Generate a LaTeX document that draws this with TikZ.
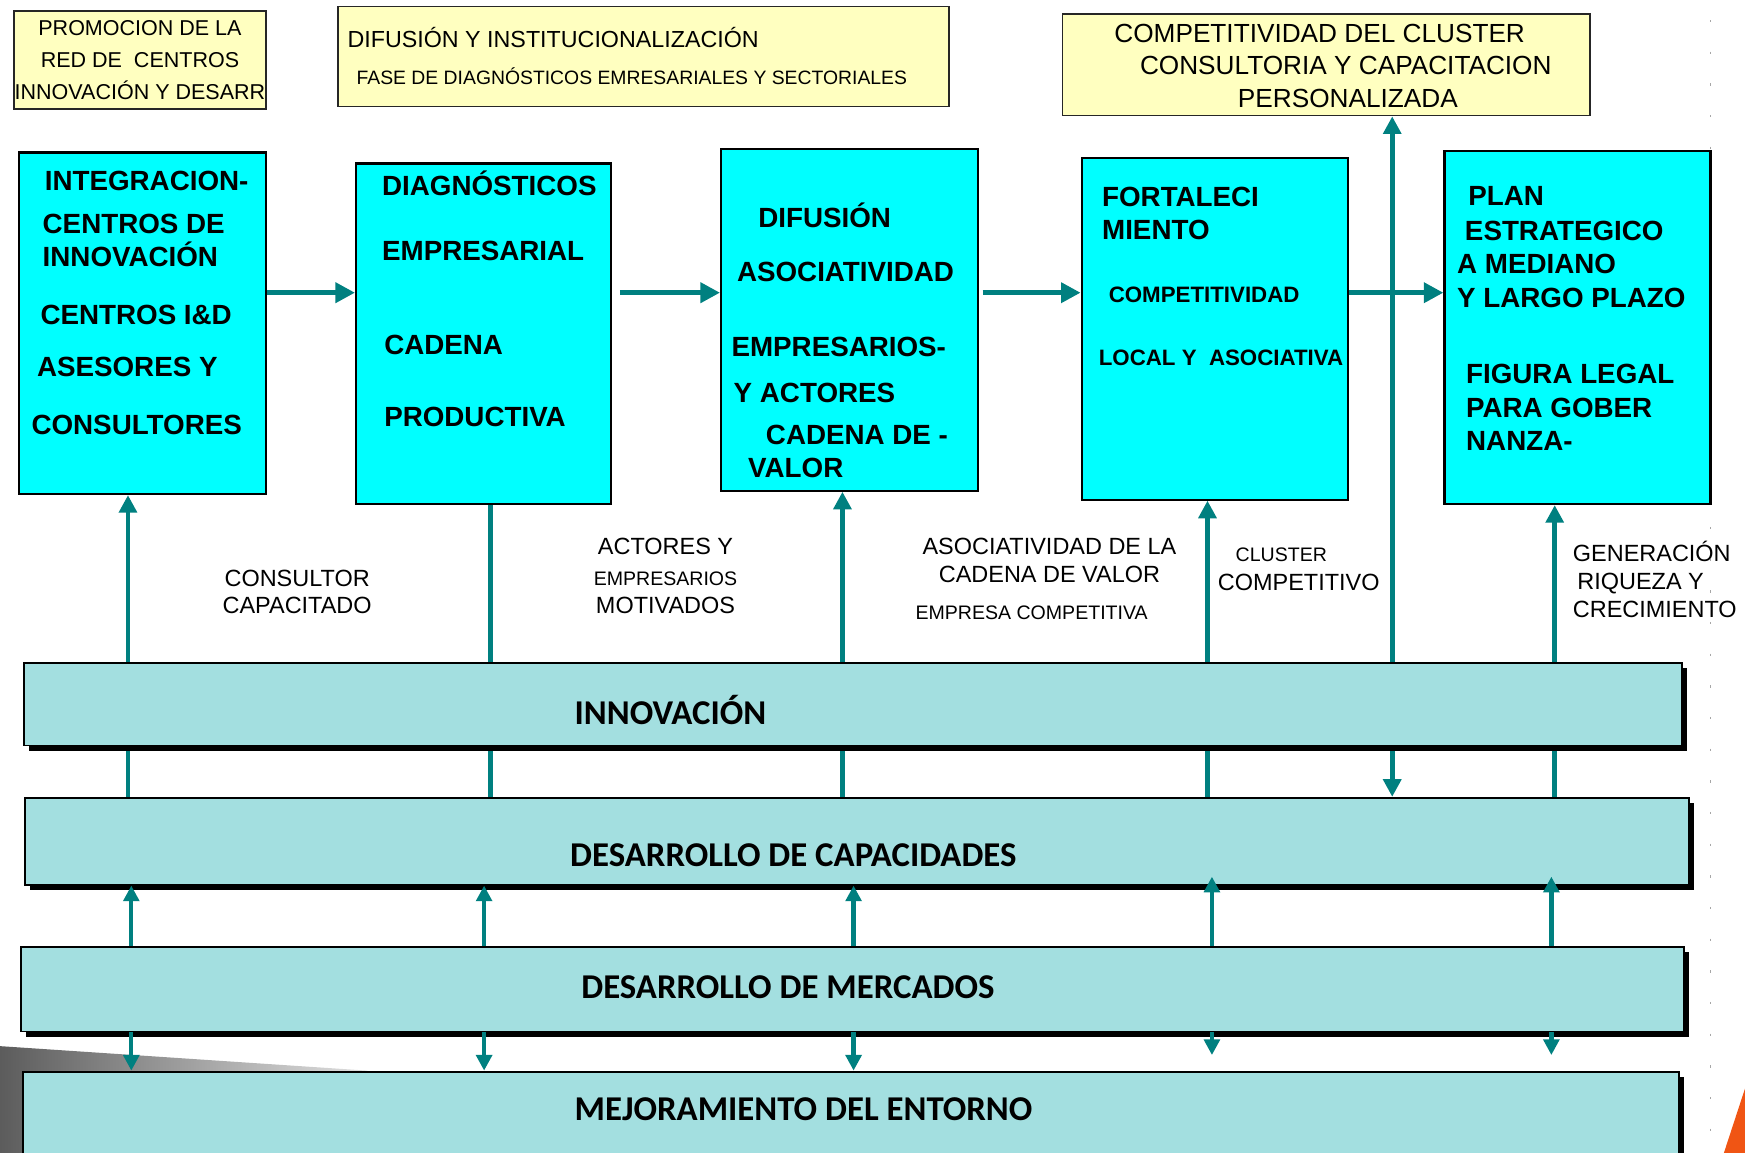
\documentclass[tikz,border=0pt]{standalone}
\usepackage{fontspec}
\setmainfont{Liberation Sans}
\newfontfamily\barfont{Carlito}
\usepackage{tikz}
\usetikzlibrary{
  positioning,
  shadows,
  backgrounds,
  arrows.meta
}
\definecolor{celeste}{RGB}{0,255,255}
\definecolor{crema}{RGB}{255,255,192}
\definecolor{verdeagua}{RGB}{163,223,224}
\definecolor{flecha}{RGB}{0,128,128}
\definecolor{naranja}{RGB}{240,85,20}

\begin{document}
\begin{tikzpicture}[x=0.02cm,y=-0.02cm,>={Triangle[length=9pt,width=9pt]},
    ybox/.style={draw=black!85,line width=0.9pt,fill=crema,anchor=north west,inner sep=0},
    cbox/.style={draw,line width=1.1pt,fill=celeste,anchor=north west,inner sep=0},
    barra/.style={draw,line width=1pt,fill=verdeagua,anchor=north west,inner sep=0,
      general shadow={fill=black,shadow xshift=0.09cm,shadow yshift=-0.09cm}},
    btext/.style={font=\bfseries\fontsize{14.2}{17}\selectfont,anchor=north west,inner sep=0,align=left},
    ltext/.style={font=\fontsize{12}{14.2}\selectfont,inner sep=0},
    bartext/.style={font=\barfont\bfseries\fontsize{17.8}{20}\selectfont,anchor=base west,inner sep=0},
    harrow/.style={flecha,line width=2.8pt,->,>={Triangle[length=10pt,width=10pt]}},
    varrow/.style={flecha,line width=2.4pt,->},
    larrow/.style={flecha,line width=2.2pt,->,>={Triangle[length=8pt,width=8pt]}}]

    \useasboundingbox (0,0) rectangle (1568,1036);

    \shade[left color=black!64,right color=black!12] (0,940) -- (330,962) -- (330,1036) -- (0,1036) -- cycle;
    \fill[naranja] (1568,978) -- (1568,1036) -- (1549,1036) -- cycle;
    \draw[black!35,line width=0.7pt,dash pattern=on 1.2pt off 15pt] (1537,18) -- (1537,1036);

    \node[ybox,minimum width=4.52cm,minimum height=1.76cm,align=center,font=\fontsize{11}{16.5}\selectfont] (prom) at (12,9)
        {PROMOCION DE LA\\RED DE~ CENTROS\\INNOVACIÓN Y DESARR};
    \node[ybox,minimum width=10.98cm,minimum height=1.8cm] (difu) at (303,5) {};
    \node[anchor=north west,inner sep=0,align=left,font=\fontsize{11.9}{18.8}\selectfont] (difut) at (312,24)
        {DIFUSIÓN Y INSTITUCIONALIZACIÓN\\\hspace*{4.6pt}{\fontsize{9.9}{18.8}\selectfont FASE DE DIAGNÓSTICOS EMRESARIALES Y SECTORIALES}};
    \node[ybox,minimum width=9.48cm,minimum height=1.82cm] (comp) at (954,12) {};
    \node[anchor=north west,inner sep=0,align=left,font=\fontsize{13.4}{16.5}\selectfont] (compt) at (1001,21.5)
        {COMPETITIVIDAD DEL CLUSTER\\\hspace*{13.1pt}CONSULTORIA Y CAPACITACION\\\hspace*{63.2pt}PERSONALIZADA};

    \node[cbox,minimum width=4.44cm,minimum height=6.14cm] (integ) at (16,136) {};
    \node[cbox,minimum width=4.58cm,minimum height=6.12cm] (diag) at (319,146) {};
    \node[cbox,minimum width=4.62cm,minimum height=6.14cm] (asoc) at (647,133) {};
    \node[cbox,minimum width=4.78cm,minimum height=6.14cm] (fort) at (971,141) {};
    \node[cbox,minimum width=4.78cm,minimum height=6.34cm] (plan) at (1297,135) {};

    \node[btext] (integt) at (28,153) {\hspace*{6.8pt}INTEGRACION-\\[5.1pt]
        \hspace*{5.7pt}CENTROS DE\\\hspace*{5.7pt}INNOVACIÓN\\[12.5pt]
        \hspace*{4.6pt}CENTROS I\&D\\[9.7pt]\hspace*{2.8pt}ASESORES Y\\[12.5pt]CONSULTORES};
    \node[btext] (diagt) at (343,153) {DIAGNÓSTICOS\\[16.5pt]EMPRESARIAL\\[30.7pt]
        \hspace*{1.1pt}CADENA\\[19.9pt]\hspace*{1.1pt}PRODUCTIVA};
    \node[btext] (asoct) at (657,182) {\hspace*{13.7pt}DIFUSIÓN\\[10.8pt]\hspace*{2.8pt}ASOCIATIVIDAD\\[21.1pt]
        EMPRESARIOS-\\[6.8pt]\hspace*{1.1pt}Y ACTORES\\[4pt]\hspace*{17.6pt}CADENA DE -\\\hspace*{8.5pt}VALOR};
    \node[btext] (fortt) at (987,168) {\hspace*{1.7pt}FORTALECI\\\hspace*{1.7pt}MIENTO\\[14.8pt]
        \hspace*{5.1pt}{\fontsize{11.4}{17}\selectfont COMPETITIVIDAD}\\[15.4pt]{\fontsize{11.4}{17}\selectfont LOCAL Y~ ASOCIATIVA}};
    \node[btext] (plant) at (1309,167) {\hspace*{5.7pt}PLAN\\[1.1pt]\hspace*{4pt}ESTRATEGICO\\A MEDIANO\\Y LARGO PLAZO\\[22.2pt]
        \hspace*{4.6pt}FIGURA LEGAL\\\hspace*{4.6pt}PARA GOBER\\\hspace*{4.6pt}NANZA-};

    \node[ltext,anchor=north,align=center] (consul) at (267,511.5) {CONSULTOR\\CAPACITADO};
    \node[ltext,anchor=north,align=center] (actor) at (598,483.5) {ACTORES Y\\[1.7pt]{\fontsize{10}{14.2}\selectfont EMPRESARIOS}\\MOTIVADOS};
    \node[ltext,anchor=north,align=center] (cadval) at (943,483.5) {ASOCIATIVIDAD DE LA\\CADENA DE VALOR};
    \node[ltext,font=\fontsize{10}{12}\selectfont] (empcomp) at (927,551) {EMPRESA COMPETITIVA};
    \node[ltext,anchor=north west,align=left] (clus) at (1094,491.7) {\hspace*{9.1pt}{\fontsize{10}{14.8}\selectfont CLUSTER}\\[0.6pt]COMPETITIVO};
    \node[ltext,anchor=north west,align=left] (gener) at (1413,486) {GENERACIÓN\\\hspace*{2.3pt}RIQUEZA Y\\CRECIMIENTO};

    \node[barra,minimum width=29.8cm,minimum height=1.48cm] (innov) at (21,595) {};
    \node[barra,minimum width=29.9cm,minimum height=1.56cm] (capa) at (22,716) {};
    \node[barra,minimum width=29.9cm,minimum height=1.52cm] (merc) at (18,850) {};
    \node[barra,minimum width=29.76cm,minimum height=1.6cm] (ento) at (20,962) {};

    \node[bartext] (innovt) at (516,651) {INNOVACIÓN};
    \node[bartext] (capat) at (512,779) {DESARROLLO DE CAPACIDADES};
    \node[bartext] (merct) at (522,897) {DESARROLLO DE MERCADOS};
    \node[bartext] (entot) at (516,1007) {MEJORAMIENTO DEL ENTORNO};

    \coordinate (hr) at (0,263);
    \coordinate (u1) at (115,0);
    \coordinate (u2) at (441,0);
    \coordinate (u3) at (757,0);
    \coordinate (u4) at (1085,0);
    \coordinate (u5) at (1397,0);
    \coordinate (uc) at (1251,0);
    \coordinate (d1) at (118,0);
    \coordinate (d2) at (435,0);
    \coordinate (d3) at (767,0);
    \coordinate (d4) at (1089,0);
    \coordinate (d5) at (1394,0);

    \draw[harrow] (integ.east |- hr) -- (diag.west |- hr);
    \draw[harrow,shorten <=0.14cm] (diag.east |- hr) -- (asoc.west |- hr);
    \draw[harrow,shorten <=0.06cm] (asoc.east |- hr) -- (fort.west |- hr);
    \draw[harrow] (fort.east |- hr) -- (plan.west |- hr);

    \begin{scope}[on background layer]
        \draw[varrow] (capa.north -| u1) -- (integ.south -| u1);
        \draw[flecha,line width=2.4pt] (capa.north -| u2) -- (diag.south -| u2);
        \draw[varrow] (capa.north -| u3) -- (asoc.south -| u3);
        \draw[varrow] (capa.north -| u4) -- (fort.south -| u4);
        \draw[varrow] (capa.north -| u5) -- (plan.south -| u5);
        \draw[varrow,<->] (capa.north -| uc) -- (comp.south -| uc);
    \end{scope}

    \draw[larrow] (merc.north -| d1) -- (capa.south -| d1);
    \draw[larrow] (merc.south -| d1) -- (ento.north -| d1);
    \draw[larrow] (merc.north -| d2) -- (capa.south -| d2);
    \draw[larrow] (merc.south -| d2) -- (ento.north -| d2);
    \draw[larrow] (merc.north -| d3) -- (capa.south -| d3);
    \draw[larrow] (merc.south -| d3) -- (ento.north -| d3);
    \draw[larrow,shorten >=-0.16cm] (merc.north -| d4) -- (capa.south -| d4);
    \draw[larrow,shorten >=0.28cm] (merc.south -| d4) -- (ento.north -| d4);
    \draw[larrow,shorten >=-0.16cm] (merc.north -| d5) -- (capa.south -| d5);
    \draw[larrow,shorten >=0.28cm] (merc.south -| d5) -- (ento.north -| d5);
\end{tikzpicture}
\end{document}
